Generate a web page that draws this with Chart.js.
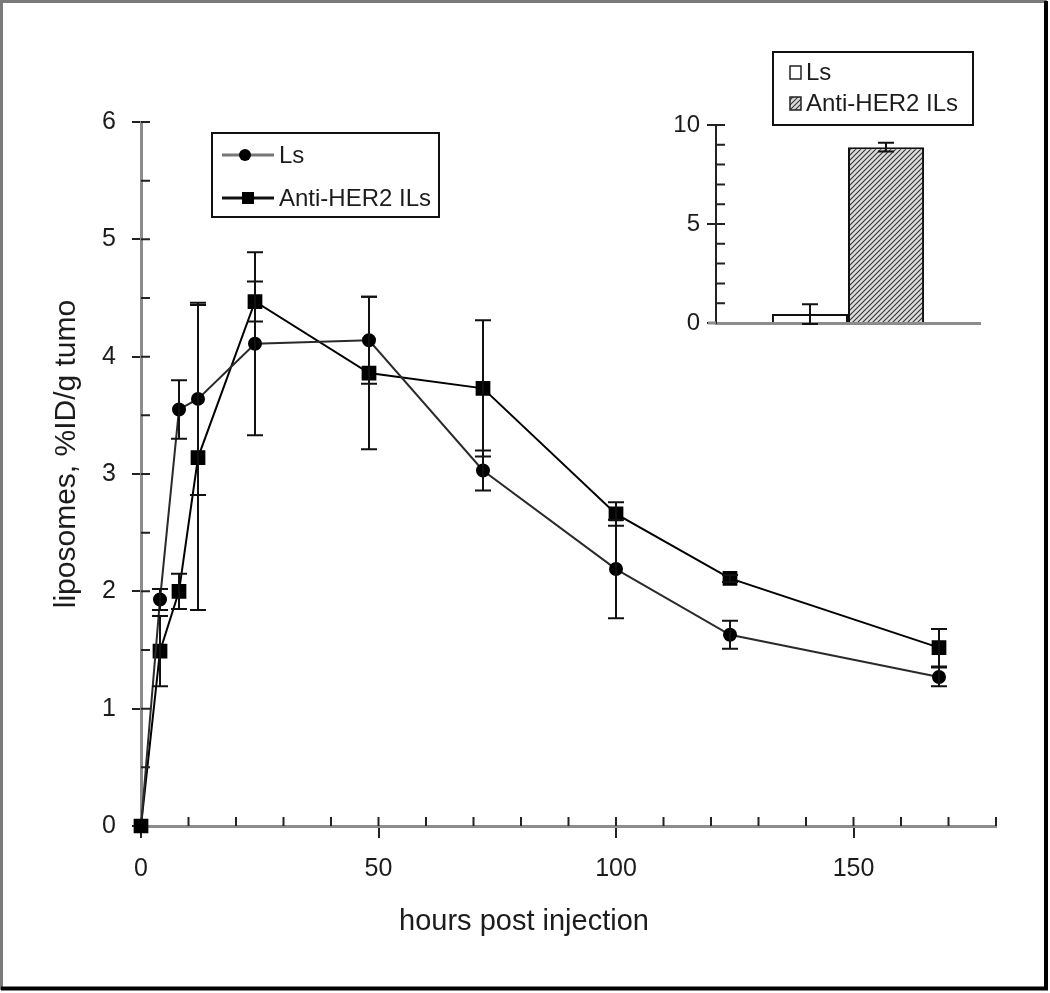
<!DOCTYPE html>
<html><head><meta charset="utf-8">
<script src="https://cdn.jsdelivr.net/npm/chart.js@4.4.1/dist/chart.umd.min.js"></script>
<style>
html,body{margin:0;padding:0;background:#fff;}
#wrap{position:relative;width:1050px;height:993px;overflow:hidden;}
#main{position:absolute;left:0;top:0;}
#inset{position:absolute;left:640px;top:40px;}
</style></head><body>
<div id="wrap"><canvas id="main" width="1050" height="993"></canvas><canvas id="inset" width="360" height="320"></canvas></div>
<script>
// ---------- data ----------
const hours = [0, 4, 8, 12, 24, 48, 72, 100, 124, 168];
const lsValues = [0, 1.93, 3.55, 3.64, 4.11, 4.14, 3.03, 2.19, 1.63, 1.27];
const lsErrors = [0, 0.09, 0.25, 0.82, 0.78, 0.37, 0.17, 0.42, 0.12, 0.08];
const antiValues = [0, 1.49, 2.00, 3.14, 4.47, 3.86, 3.73, 2.66, 2.11, 1.52];
const antiErrors = [0, 0.30, 0.15, 1.30, 0.17, 0.65, 0.58, 0.10, 0.03, 0.16];
const seriesNames = ['Ls', 'Anti-HER2 ILs'];
const xTickValues = [0, 50, 100, 150];
const yTickValues = [0, 1, 2, 3, 4, 5, 6];
const xTitle = 'hours post injection';
const yTitle = 'liposomes, %ID/g tumo';

const insetCategories = [''];
const insetValues = [0.45, 8.88];
const insetErrors = [0.50, 0.22];
const insetTickValues = [0, 5, 10];

// ---------- style ----------
const FONT = "'Liberation Sans', Arial, sans-serif";
const TXT = '#1c1c1c';
const AXIS_GRAY = '#8c8c8c';

function pts(xs, ys) { return xs.map((x, i) => ({x: x, y: ys[i]})); }

function hatchPattern() {
  const c = document.createElement('canvas');
  c.width = 5; c.height = 5;
  const g = c.getContext('2d');
  g.fillStyle = '#dcdcdc'; g.fillRect(0, 0, 5, 5);
  g.strokeStyle = '#333'; g.lineWidth = 1.1;
  g.beginPath();
  g.moveTo(-1, 6); g.lineTo(6, -1);
  g.moveTo(-1, 1); g.lineTo(1, -1);
  g.moveTo(4, 6); g.lineTo(6, 4);
  g.stroke();
  return g.createPattern(c, 'repeat');
}
const HATCH = hatchPattern();

function drawErrorBars(chart, errs, capHalf) {
  const ctx = chart.ctx;
  chart.data.datasets.forEach((ds, di) => {
    const meta = chart.getDatasetMeta(di);
    const yS = chart.scales[meta.yAxisID];
    const e = errs[di];
    meta.data.forEach((el, i) => {
      if (!e[i]) return;
      const raw = ds.data[i];
      const v = typeof raw === 'object' ? raw.y : raw;
      const px = el.x;
      const top = yS.getPixelForValue(v + e[i]);
      const bot = yS.getPixelForValue(v - e[i]);
      ctx.save();
      ctx.strokeStyle = '#111'; ctx.lineWidth = 2;
      ctx.beginPath();
      ctx.moveTo(px, top); ctx.lineTo(px, bot);
      ctx.moveTo(px - capHalf, top); ctx.lineTo(px + capHalf, top);
      ctx.moveTo(px - capHalf, bot); ctx.lineTo(px + capHalf, bot);
      ctx.stroke();
      ctx.restore();
    });
  });
}

// ---------- main chart ----------
const mainPlugin = {
  id: 'mainExtras',
  beforeDraw(chart) {
    const ctx = chart.ctx;
    ctx.save(); ctx.fillStyle = '#fff'; ctx.fillRect(0, 0, chart.width, chart.height); ctx.restore();
  },
  afterDatasetsDraw(chart) {
    drawErrorBars(chart, [lsErrors, antiErrors], 8);
  },
  afterDraw(chart) {
    const ctx = chart.ctx, xS = chart.scales.x, yS = chart.scales.y;
    ctx.save();
    ctx.strokeStyle = '#222'; ctx.lineWidth = 2;
    ctx.beginPath();
    for (let k = 1; k <= 12; k++) {
      const py = yS.getPixelForValue(k / 2);
      ctx.moveTo(xS.left, py); ctx.lineTo(xS.left + 9, py);
    }
    for (let h = 10; h <= 180; h += 10) {
      const px = xS.getPixelForValue(h);
      ctx.moveTo(px, yS.bottom); ctx.lineTo(px, yS.bottom - 9);
    }
    ctx.stroke();

    // axis titles
    ctx.fillStyle = TXT;
    ctx.font = '29px ' + FONT;
    ctx.textAlign = 'center'; ctx.textBaseline = 'middle';
    ctx.fillText(xTitle, 524, 922);
    ctx.save();
    ctx.font = '30px ' + FONT;
    ctx.translate(67, 454); ctx.rotate(-Math.PI / 2);
    ctx.fillText(yTitle, 0, 0);
    ctx.restore();

    // legend
    const lx = 212, ly = 133, lw = 227, lh = 84;
    ctx.strokeStyle = '#111'; ctx.lineWidth = 2;
    ctx.strokeRect(lx, ly, lw, lh);
    const rows = [155, 198];
    chart.data.datasets.forEach((ds, i) => {
      const y = rows[i];
      ctx.strokeStyle = i === 0 ? '#777' : '#111';
      ctx.lineWidth = 3;
      ctx.beginPath(); ctx.moveTo(222, y); ctx.lineTo(274, y); ctx.stroke();
      ctx.fillStyle = '#000';
      if (i === 0) { ctx.beginPath(); ctx.arc(245, y, 6, 0, Math.PI * 2); ctx.fill(); }
      else { ctx.fillRect(242, y - 6, 12, 12); }
      ctx.fillStyle = TXT;
      ctx.font = '24px ' + FONT;
      ctx.textAlign = 'left'; ctx.textBaseline = 'middle';
      ctx.fillText(ds.label, 279, y + 1);
    });

    // frame
    ctx.strokeStyle = '#7a7a7a'; ctx.lineWidth = 3;
    ctx.beginPath(); ctx.moveTo(1.5, 990); ctx.lineTo(1.5, 1.5); ctx.lineTo(1047, 1.5); ctx.stroke();
    ctx.strokeStyle = '#000'; ctx.lineWidth = 4;
    ctx.beginPath(); ctx.moveTo(1046, 1); ctx.lineTo(1046, 988.5); ctx.lineTo(1, 988.5); ctx.stroke();
    ctx.restore();
  }
};

new Chart(document.getElementById('main'), {
  type: 'line',
  data: {
    datasets: [
      { label: seriesNames[0], data: pts(hours, lsValues), borderColor: '#2a2a2a', borderWidth: 2, clip: false,
        pointStyle: 'circle', pointRadius: 6, pointBackgroundColor: '#000', pointBorderColor: '#000', tension: 0 },
      { label: seriesNames[1], data: pts(hours, antiValues), borderColor: '#000', borderWidth: 2, clip: false,
        pointStyle: 'rect', pointRadius: 9, pointBackgroundColor: '#000', pointBorderColor: '#000', tension: 0 }
    ]
  },
  options: {
    responsive: false, animation: false, devicePixelRatio: 1,
    layout: { padding: { left: 0, top: 122, right: 54, bottom: 0 } },
    plugins: { legend: { display: false }, tooltip: { enabled: false } },
    scales: {
      x: {
        type: 'linear', min: 0, max: 180,
        afterBuildTicks: s => { s.ticks = xTickValues.map(v => ({ value: v })); },
        ticks: { color: TXT, font: { family: FONT, size: 25 }, padding: 16, maxRotation: 0 },
        grid: { drawOnChartArea: false, drawTicks: true, tickLength: 12, color: '#222', lineWidth: 2 },
        border: { display: true, color: AXIS_GRAY, width: 3 },
        afterFit: s => { s.height = 993 - 826; }
      },
      y: {
        type: 'linear', min: 0, max: 6,
        afterBuildTicks: s => { s.ticks = yTickValues.map(v => ({ value: v })); },
        ticks: { color: TXT, font: { family: FONT, size: 25 }, padding: 16 },
        grid: { drawOnChartArea: false, drawTicks: true, tickLength: 9, color: '#222', lineWidth: 2 },
        border: { display: true, color: AXIS_GRAY, width: 3 },
        afterFit: s => { s.width = 141; }
      }
    }
  },
  plugins: [mainPlugin]
});

// ---------- inset chart ----------
const insetPlugin = {
  id: 'insetExtras',
  afterDatasetsDraw(chart) {
    drawErrorBars(chart, insetErrors.map(e => [e]), 8);
  },
  afterDraw(chart) {
    const ctx = chart.ctx, xS = chart.scales.x, yS = chart.scales.y;
    ctx.save();
    ctx.strokeStyle = '#222'; ctx.lineWidth = 2;
    ctx.beginPath();
    for (let v = 1; v <= 10; v++) {
      const py = yS.getPixelForValue(v);
      ctx.moveTo(yS.right, py); ctx.lineTo(yS.right + 9, py);
    }
    ctx.stroke();
    ctx.strokeStyle = AXIS_GRAY; ctx.lineWidth = 3;
    ctx.beginPath(); ctx.moveTo(xS.left - 8, yS.bottom); ctx.lineTo(xS.left, yS.bottom); ctx.stroke();

    // legend
    ctx.strokeStyle = '#111'; ctx.lineWidth = 2;
    ctx.strokeRect(133, 12, 200, 73);
    const rows = [32, 63];
    chart.data.datasets.forEach((ds, i) => {
      const y = rows[i];
      ctx.fillStyle = ds.backgroundColor;
      ctx.fillRect(150, y - 6, 11, 13);
      ctx.strokeStyle = '#222'; ctx.lineWidth = 1.5;
      ctx.strokeRect(150, y - 6, 11, 13);
      ctx.fillStyle = TXT;
      ctx.font = '24px ' + FONT;
      ctx.textAlign = 'left'; ctx.textBaseline = 'middle';
      ctx.fillText(ds.label, 166, y + 1);
    });
    ctx.restore();
  }
};

new Chart(document.getElementById('inset'), {
  type: 'bar',
  data: {
    labels: insetCategories,
    datasets: [
      { label: seriesNames[0], data: [insetValues[0]], backgroundColor: '#fff', borderColor: '#111', borderWidth: 2 },
      { label: seriesNames[1], data: [insetValues[1]], backgroundColor: HATCH, borderColor: '#111', borderWidth: 2 }
    ]
  },
  options: {
    responsive: false, animation: false, devicePixelRatio: 1,
    categoryPercentage: 0.576, barPercentage: 1,
    layout: { padding: { left: 0, top: 85, right: 20, bottom: 0 } },
    plugins: { legend: { display: false }, tooltip: { enabled: false } },
    scales: {
      x: {
        ticks: { display: false },
        grid: { display: false },
        border: { display: true, color: AXIS_GRAY, width: 3 },
        afterFit: s => { s.height = 37; }
      },
      y: {
        min: 0, max: 10,
        afterBuildTicks: s => { s.ticks = insetTickValues.map(v => ({ value: v })); },
        ticks: { color: TXT, font: { family: FONT, size: 24 }, padding: 7 },
        grid: { drawOnChartArea: false, drawTicks: true, tickLength: 9, color: '#222', lineWidth: 2 },
        border: { display: true, color: '#222', width: 2 },
        afterFit: s => { s.width = 76; }
      }
    }
  },
  plugins: [insetPlugin]
});
</script>
</body></html>
